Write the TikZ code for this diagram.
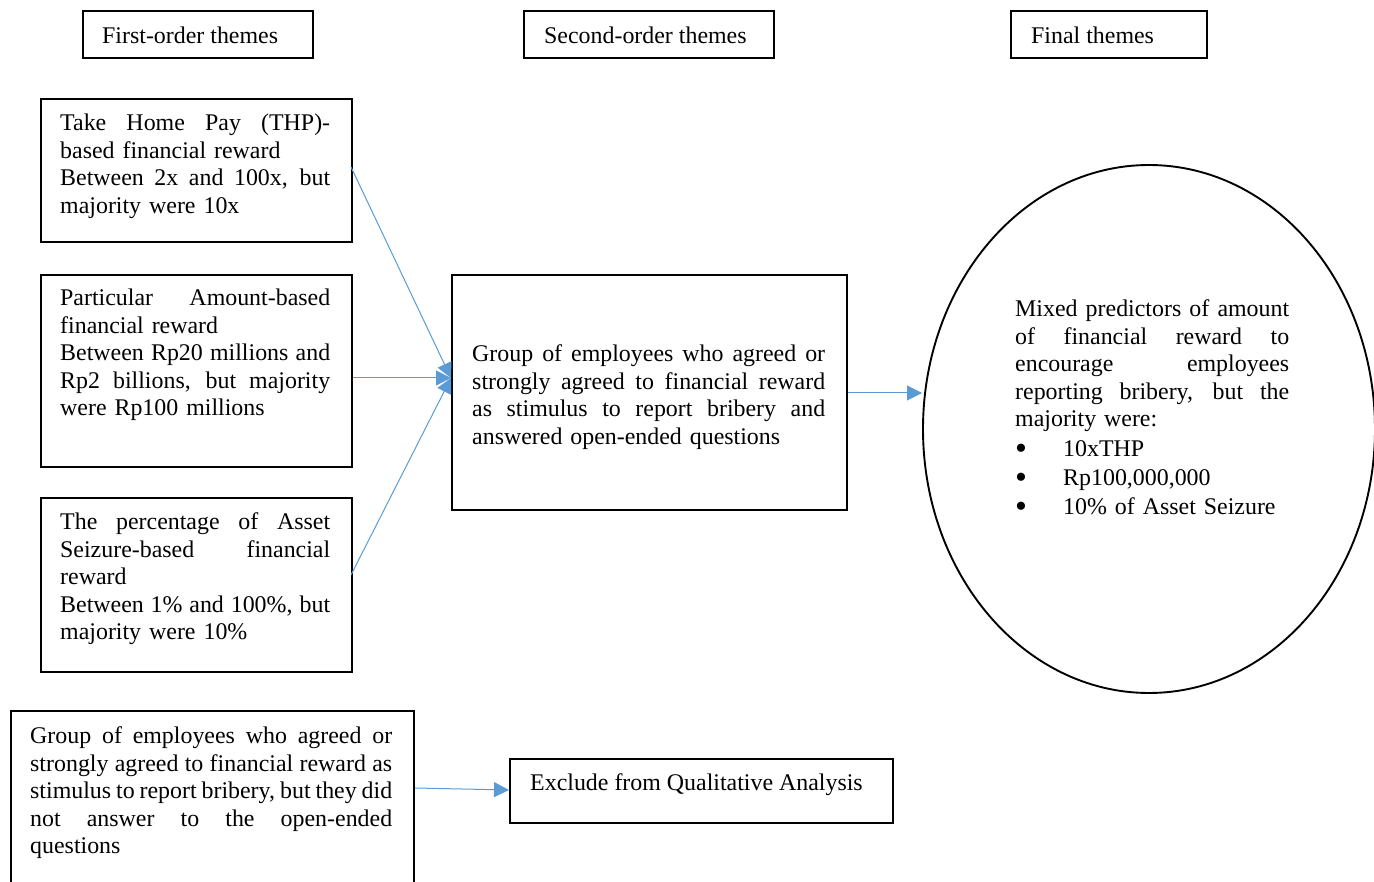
\documentclass[tikz,border=0pt]{standalone}
\usepackage{fontspec}
\setmainfont{Liberation Serif}
\usetikzlibrary{arrows.meta,shapes.geometric}
\definecolor{arrowblue}{HTML}{5B9BD5}
% one line stretched to the width \tw of its text block
% (the ragged alignment of nodes fixes the word space, so it is reset here)
\newcommand{\tw}{0pt}
\newcommand{\jl}[1]{\makebox[\tw][s]{\spaceskip=0pt\xspaceskip=0pt #1}}
\newcommand{\bul}{\makebox[48pt][l]{\raisebox{-3.5pt}{\fontsize{34}{34}\selectfont\textbullet}}}
\begin{document}
\begin{tikzpicture}[x=1pt,y=-1pt,
  frame/.style={draw,line width=1.9pt,inner sep=0pt,anchor=north west},
  txt/.style={anchor=north west,inner sep=0pt,align=left,
    font=\fontsize{23.9}{27.6}\selectfont},
  block/.style={txt,text width=#1,execute at begin node={\renewcommand{\tw}{#1}}},
  link/.style={draw=arrowblue,line width=1pt,
    -{Triangle[length=15pt,width=15pt]}}]
\useasboundingbox (0,0) rectangle (1374,882);

% column headings
\node[frame,minimum width=230,minimum height=47] (h1) at (82,10) {};
\node[txt] (h1t) at (102,23.7) {\strut First-order themes};
\node[frame,minimum width=250,minimum height=47] (h2) at (523,10) {};
\node[txt] (h2t) at (544,23.7) {\strut Second-order themes};
\node[frame,minimum width=196,minimum height=47] (h3) at (1010,10) {};
\node[txt] (h3t) at (1031,23.7) {\strut Final themes};

% first-order themes
\node[frame,minimum width=311,minimum height=143] (b1) at (40,98) {};
\node[block=270pt] (b1t) at (60,111) {\strut
  \jl{Take Home Pay (THP)-}\\
  based financial reward\\
  \jl{Between 2x and 100x, but}\\
  majority were 10x};

\node[frame,minimum width=311,minimum height=192] (b2) at (40,274) {};
\node[block=270pt] (b2t) at (60,286) {\strut
  \jl{Particular Amount-based}\\
  financial reward\\
  \jl{Between Rp20 millions and}\\
  \jl{Rp2 billions, but majority}\\
  were Rp100 millions};

\node[frame,minimum width=311,minimum height=174] (b3) at (40,497) {};
\node[block=270pt] (b3t) at (60,510) {\strut
  \jl{The percentage of Asset}\\
  \jl{Seizure-based financial}\\
  reward\\
  \jl{Between 1\% and 100\%, but}\\
  majority were 10\%};

% second-order theme
\node[frame,minimum width=395,minimum height=235] (c) at (451,274) {};
\node[block=353pt] (ct) at (472,342) {\strut
  \jl{Group of employees who agreed or}\\
  \jl{strongly agreed to financial reward}\\
  \jl{as stimulus to report bribery and}\\
  answered open-ended questions};

% final theme
\node[draw,line width=1.9pt,ellipse,inner sep=0pt,
  minimum width=452,minimum height=528] (ell) at (1149,429) {};
\node[block=274pt] (et) at (1015,297) {\strut
  \jl{Mixed predictors of amount}\\
  \jl{of financial reward to}\\
  \jl{encourage employees}\\
  \jl{reporting bribery, but the}\\
  majority were:\\[1.5pt]
  \bul 10xTHP\\[1.5pt]
  \bul Rp100,000,000\\[1.5pt]
  \bul 10\% of Asset Seizure};

% respondents left out of the analysis
\node[frame,minimum width=403,minimum height=200] (bb) at (10,710) {};
\node[block=362pt] (bbt) at (30,724) {\strut
  \jl{Group of employees who agreed or}\\
  \jl{strongly agreed to financial reward as}\\
  \jl{stimulus to report bribery, but they did}\\
  \jl{not answer to the open-ended}\\
  questions};

\node[frame,minimum width=383,minimum height=64] (ex) at (509,758) {};
\node[txt] (ext) at (530,771) {\strut Exclude from Qualitative Analysis};

% connectors
\coordinate (hub) at (451,378);
\coordinate (o1) at (351,167);
\coordinate (o3) at (351,575);
\draw[link] (o1) -- (hub);
\draw[link] (b2.east |- hub) -- (hub);
\draw[link] (o3) -- (hub);
\draw[link] (c.east |- 0,393) -- (922,393);
\draw[link] (bb.east |- 0,788) -- (ex.west |- 0,790);
\end{tikzpicture}
\end{document}
